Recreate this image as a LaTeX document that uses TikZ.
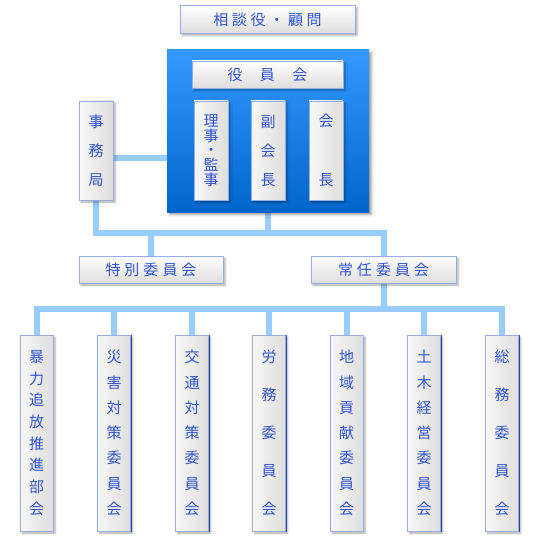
\documentclass[tikz,border=0pt]{standalone}
\usepackage{fontspec}
\setmainfont{Noto Sans CJK JP}
\usetikzlibrary{shadows.blur,backgrounds}
\definecolor{linec}{RGB}{153,204,255}
\definecolor{txt}{RGB}{50,85,210}
\definecolor{bdlight}{RGB}{150,172,232}
\definecolor{bddark}{RGB}{50,90,200}
\definecolor{bluetop}{RGB}{51,153,255}
\definecolor{bluebot}{RGB}{0,102,204}
\definecolor{boxgray}{RGB}{222,222,222}
\newcommand\sgap{\hspace{3.7pt}}
\newcommand\wgap{\hspace{17.5pt}}
\newcommand\tgap{\hspace{4pt}}
\newcommand\vfont[1]{\fontsize{15}{#1}\selectfont\lineskiplimit=-20pt\relax}
\tikzset{
 box/.style={rectangle, inner sep=0pt, draw=bdlight, line width=0.8pt, text=txt,
   blur shadow={shadow xshift=2pt, shadow yshift=-2pt, shadow blur radius=2pt, shadow opacity=35},
   append after command={\pgfextra{\draw[bddark,line width=0.8pt] (\tikzlastnode.north east) -- (\tikzlastnode.south east) -- (\tikzlastnode.south west);}}},
 hbox/.style={box, top color=white, middle color=white, bottom color=boxgray, font=\fontsize{15}{17}\selectfont},
 vbox/.style={box, left color=white!97!black, middle color=white, right color=boxgray, align=center, font={\vfont{#1}}},
 upbox/.style={vbox=#1, minimum width=34pt, minimum height=99pt},
 lowbox/.style={vbox=#1, minimum width=33pt, minimum height=196pt},
 conn/.style={draw=linec, line width=6pt},
}
\begin{document}
\begin{tikzpicture}[x=1pt,y=-1pt]
\useasboundingbox (0,0) rectangle (540,540);
% top
\node[hbox, minimum width=175pt, minimum height=28pt] (sodan) at (267.5,19.5) {相\sgap 談\sgap 役\sgap ・\sgap 顧\sgap 問};
% blue board
\node[rectangle, minimum width=202pt, minimum height=162pt, top color=bluetop, bottom color=bluebot,
  blur shadow={shadow xshift=2.5pt, shadow yshift=-2.5pt, shadow blur radius=2.5pt, shadow opacity=40}] (blue) at (268,131) {};
\node[hbox, minimum width=151pt, minimum height=27pt] (yakuin) at (267.5,74.5) {役\wgap 員\wgap 会};
\node[upbox=14.75] (riji) at (211,150.5) {理\\事\\・\\監\\事};
\node[upbox=29] (fuku) at (268,150.5) {副\\会\\長};
\node[upbox=59] (kaicho) at (326,150.5) {会\\長};
% jimukyoku
\node[upbox=29] (jimu) at (96,150.5) {事\\務\\局};
% committees
\node[hbox, minimum width=144pt, minimum height=27pt] (tokubetsu) at (151,269.5) {特\tgap 別\tgap 委\tgap 員\tgap 会};
\node[hbox, minimum width=145pt, minimum height=27pt] (jonin) at (383.5,269.5) {常\tgap 任\tgap 委\tgap 員\tgap 会};
% bottom row
\node[lowbox=21.7] (c1) at (36.5,433) {暴\\力\\追\\放\\推\\進\\部\\会};
\node[lowbox=25.3] (c2) at (114,433) {災\\害\\対\\策\\委\\員\\会};
\node[lowbox=25.3] (c3) at (192,433) {交\\通\\対\\策\\委\\員\\会};
\node[lowbox=38] (c4) at (269,433) {労\\務\\委\\員\\会};
\node[lowbox=25.3] (c5) at (346.5,433) {地\\域\\貢\\献\\委\\員\\会};
\node[lowbox=25.3] (c6) at (424,433) {土\\木\\経\\営\\委\\員\\会};
\node[lowbox=38] (c7) at (502,433) {総\\務\\委\\員\\会};
% connectors
\coordinate (m) at (269.5,233);
\coordinate (b) at (269,309);
\coordinate (j1) at ([yshift=-7.5pt]jimu.east);
\begin{scope}[on background layer]
\draw[conn] (j1) -- (j1 -| blue.west);
\draw[conn] (jimu.south) |- (m) -| (jonin.north);
\draw[conn] (blue.south) -- (blue.south |- m);
\draw[conn] (tokubetsu.north |- m) -- (tokubetsu.north);
\draw[conn] (jonin.south) -- (jonin.south |- b);
\draw[conn] (c1.north) |- (b) -| (c7.north);
\foreach \n in {c2,c3,c4,c5,c6} \draw[conn] (\n.north |- b) -- (\n.north);
\end{scope}
\end{tikzpicture}
\end{document}
